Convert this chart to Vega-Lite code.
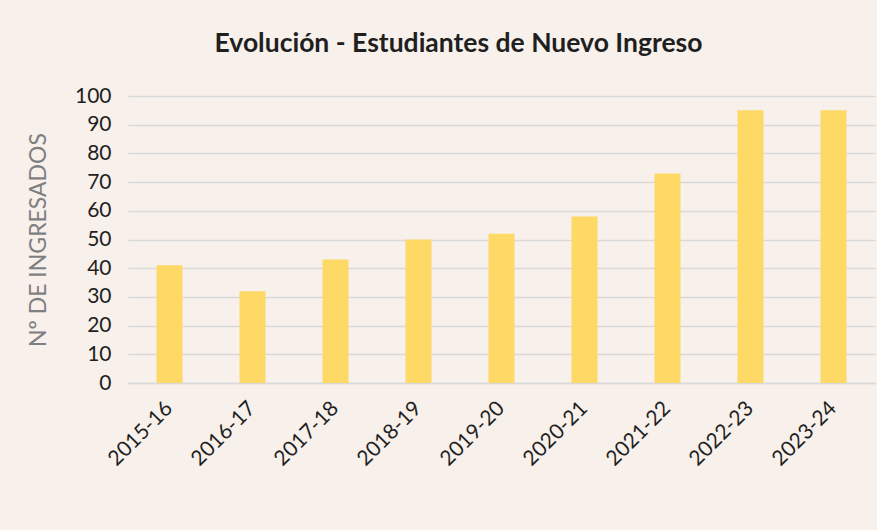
{
  "$schema": "https://vega.github.io/schema/vega-lite/v6.json",
  "autosize": {"type": "none"},
  "width": 747,
  "height": 287,
  "padding": {"left": 128, "top": 96, "right": 2, "bottom": 147},
  "background": "#F8F0EB",
  "title": {
    "text": "Evolución - Estudiantes de Nuevo Ingreso",
    "font": "Lato",
    "fontSize": 26.5,
    "fontWeight": "bold",
    "color": "#1F1F1F",
    "anchor": "middle",
    "dx": -43,
    "offset": 28
  },
  "data": {
    "values": [
      {"curso": "2015-16", "ingresados": 41},
      {"curso": "2016-17", "ingresados": 32},
      {"curso": "2017-18", "ingresados": 43},
      {"curso": "2018-19", "ingresados": 50},
      {"curso": "2019-20", "ingresados": 52},
      {"curso": "2020-21", "ingresados": 58},
      {"curso": "2021-22", "ingresados": 73},
      {"curso": "2022-23", "ingresados": 95},
      {"curso": "2023-24", "ingresados": 95}
    ]
  },
  "mark": {"type": "bar", "color": "#FFD966"},
  "encoding": {
    "x": {
      "field": "curso",
      "type": "nominal",
      "sort": null,
      "scale": {"paddingInner": 0.687, "paddingOuter": 0.3435},
      "axis": {
        "title": null,
        "labelAngle": -45,
        "labelAlign": "right",
        "labelBaseline": "middle",
        "labelFont": "Lato",
        "labelFontSize": 21,
        "labelColor": "#1F1F1F",
        "labelPadding": 22,
        "ticks": false,
        "domainColor": "#D9D9D9",
        "domainWidth": 1.5
      }
    },
    "y": {
      "field": "ingresados",
      "type": "quantitative",
      "scale": {"domain": [0, 100], "nice": false},
      "axis": {
        "title": "Nº  DE INGRESADOS",
        "titleFont": "Lato",
        "titleFontSize": 23,
        "titleFontWeight": "normal",
        "titleColor": "#7F7F7F",
        "titlePadding": 24,
        "values": [0, 10, 20, 30, 40, 50, 60, 70, 80, 90, 100],
        "labelFont": "Lato",
        "labelFontSize": 21,
        "labelColor": "#1F1F1F",
        "labelPadding": 17,
        "ticks": false,
        "domain": false,
        "gridColor": "#D9D9D9",
        "gridWidth": 1.5
      }
    }
  },
  "config": {"view": {"stroke": null}}
}
